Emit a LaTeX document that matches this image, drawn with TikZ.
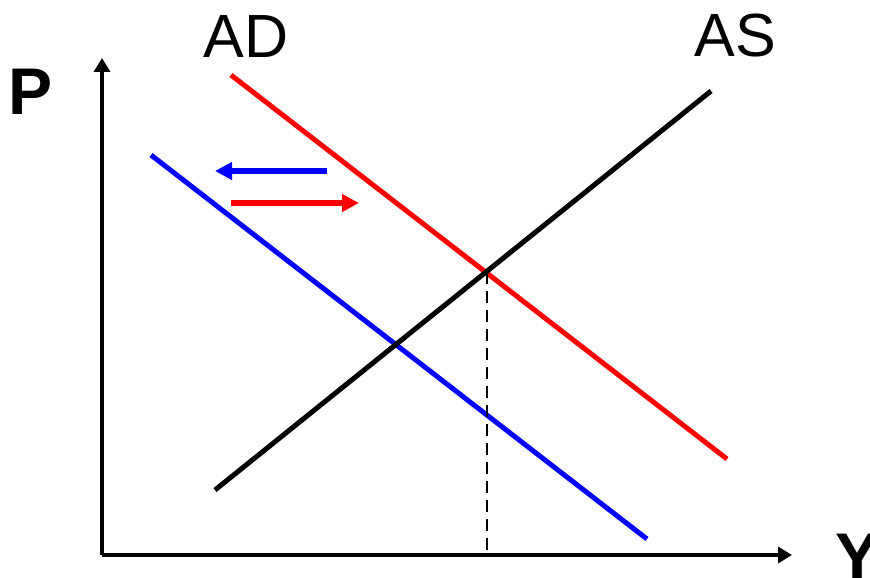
\documentclass[tikz,border=0pt]{standalone}
\usepackage{fontspec}
\setmainfont{Liberation Sans}
\usetikzlibrary{arrows.meta}
\begin{document}
\begin{tikzpicture}[x=1pt,y=-1pt,
  curve/.style={line width=5pt},
  axis/.style={line width=4.5pt,-{Triangle[length=14pt,width=16pt]}},
  shift arrow/.style={line width=5.3pt,-{Triangle[length=17pt,width=17pt]}},
  biglabel/.style={font=\fontsize{61}{61}\selectfont, inner sep=0pt},
  boldlabel/.style={font=\fontsize{66}{66}\selectfont\bfseries, inner sep=0pt}]
\useasboundingbox (0,0) rectangle (870,578);
% axes
\coordinate (O) at (102,555);
\coordinate (ytip) at (102,58);
\coordinate (xtip) at (792,555);
\draw[axis] (O) -- (ytip);
\draw[axis] (O) -- (xtip);
% curves
\coordinate (as1) at (215,490);
\coordinate (as2) at (711,91);
\coordinate (ad1) at (231,75);
\coordinate (ad2) at (727,459);
\coordinate (b1) at (151,155);
\coordinate (b2) at (647,539);
\draw[curve,red] (ad1) -- (ad2);
\draw[curve,blue] (b1) -- (b2);
\draw[curve,black] (as1) -- (as2);
% dashed
\coordinate (eq) at (487,272);
\coordinate (eqx) at (487,555);
\draw[line width=2.7pt,dash pattern=on 12pt off 7pt] (eq) -- (eqx);
% shift arrows
\coordinate (bs) at (327,171);
\coordinate (be) at (215,171);
\coordinate (rs) at (231,203);
\coordinate (re) at (359,203);
\draw[shift arrow,blue] (bs) -- (be);
\draw[shift arrow,red] (rs) -- (re);
% labels
\node[biglabel] (AD) at (246,37) {AD};
\node[biglabel] (AS) at (735,36) {AS};
\node[boldlabel] (P) at (31,92) {P};
\node[boldlabel] (Y) at (858,557) {Y};
\end{tikzpicture}
\end{document}
